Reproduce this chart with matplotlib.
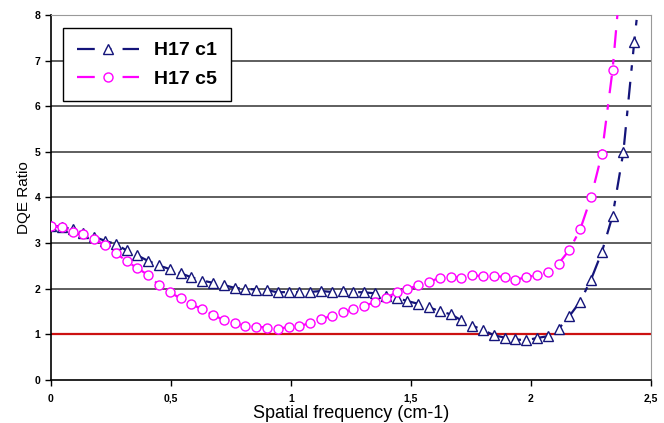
import matplotlib
matplotlib.use("Agg")
import matplotlib.pyplot as plt
from matplotlib.ticker import FuncFormatter

plt.rcParams['font.family'] = ['Liberation Sans', 'DejaVu Sans']

freq = [0, 0.045, 0.09, 0.135, 0.18, 0.225, 0.27, 0.315, 0.36, 0.405,
        0.45, 0.495, 0.54, 0.585, 0.63, 0.675, 0.72, 0.765, 0.81, 0.855,
        0.9, 0.945, 0.99, 1.035, 1.08, 1.125, 1.17, 1.215, 1.26, 1.305,
        1.35, 1.395, 1.44, 1.485, 1.53, 1.575, 1.62, 1.665, 1.71, 1.755,
        1.8, 1.845, 1.89, 1.935, 1.98, 2.025, 2.07, 2.115, 2.16, 2.205,
        2.25, 2.295, 2.34, 2.385, 2.43, 2.475]

h17_c1 = [3.38, 3.36, 3.3, 3.22, 3.14, 3.05, 2.98, 2.84, 2.73, 2.61,
          2.51, 2.43, 2.34, 2.25, 2.18, 2.13, 2.08, 2.02, 2.0, 1.98,
          1.97, 1.92, 1.93, 1.92, 1.93, 1.95, 1.93, 1.94, 1.93, 1.92,
          1.9, 1.85, 1.8, 1.73, 1.67, 1.59, 1.51, 1.44, 1.31, 1.19,
          1.1, 0.98, 0.93, 0.89, 0.87, 0.92, 0.96, 1.12, 1.4, 1.72,
          2.2, 2.8, 3.6, 5.0, 7.4, 9.6]

h17_c5 = [3.38, 3.35, 3.25, 3.2, 3.09, 2.96, 2.79, 2.6, 2.45, 2.3,
          2.08, 1.92, 1.79, 1.66, 1.55, 1.43, 1.31, 1.25, 1.18, 1.17,
          1.15, 1.11, 1.17, 1.18, 1.25, 1.33, 1.41, 1.48, 1.55, 1.63,
          1.7, 1.8, 1.92, 1.99, 2.08, 2.15, 2.24, 2.26, 2.24, 2.3,
          2.27, 2.29, 2.25, 2.2, 2.25, 2.3, 2.36, 2.55, 2.85, 3.3,
          4.0, 4.95, 6.8, 9.5]

navy = '#14147a'
magenta = '#ff00ff'
dash = (0, (8, 5, 2.5, 5))

fig = plt.figure(figsize=(6.64, 4.23), dpi=100)
ax = fig.add_axes([0.0768, 0.1017, 0.9036, 0.8628])

# horizontal grid lines
for g in range(2, 8):
    ax.axhline(g, color='#333333', lw=1.1, zorder=1)
ax.axhline(1, color='#cc1111', lw=1.6, zorder=1)

ax.plot(freq[:len(h17_c1)], h17_c1, color=navy, lw=1.6, linestyle=dash,
        marker='^', markersize=7, markerfacecolor='white', markeredgecolor=navy,
        markeredgewidth=1.0, label='H17 c1', zorder=3)
ax.plot(freq[:len(h17_c5)], h17_c5, color=magenta, lw=1.6, linestyle=dash,
        marker='o', markersize=6.5, markerfacecolor='white', markeredgecolor=magenta,
        markeredgewidth=1.0, label='H17 c5', zorder=3)

ax.set_xlim(0, 2.5)
ax.set_ylim(0, 8)
ax.set_xticks([0, 0.5, 1, 1.5, 2, 2.5])
ax.set_yticks(range(0, 9))
ax.xaxis.set_major_formatter(FuncFormatter(lambda v, p: ('%g' % v).replace('.', ',')))
ax.tick_params(axis='both', direction='out', length=4, width=1, labelsize=7.5)
for lab in ax.get_xticklabels() + ax.get_yticklabels():
    lab.set_fontweight('bold')
ax.tick_params(axis='x', pad=6)

ax.spines['top'].set_color('#999999')
ax.spines['right'].set_color('#999999')
ax.spines['left'].set_linewidth(1.2)
ax.spines['bottom'].set_linewidth(1.2)

ax.set_xlabel('Spatial frequency (cm-1)', fontsize=13, labelpad=1)
ax.set_ylabel('DQE Ratio', fontsize=11, labelpad=3)

leg = ax.legend(loc='upper left', bbox_to_anchor=(0.02, 0.964), borderaxespad=0,
                prop={'weight': 'bold', 'size': 14}, fancybox=False, framealpha=1,
                edgecolor='black', handlelength=3.2, borderpad=0.7, labelspacing=0.55)
leg.get_frame().set_linewidth(1.0)

fig.savefig('out.png', dpi=100)
